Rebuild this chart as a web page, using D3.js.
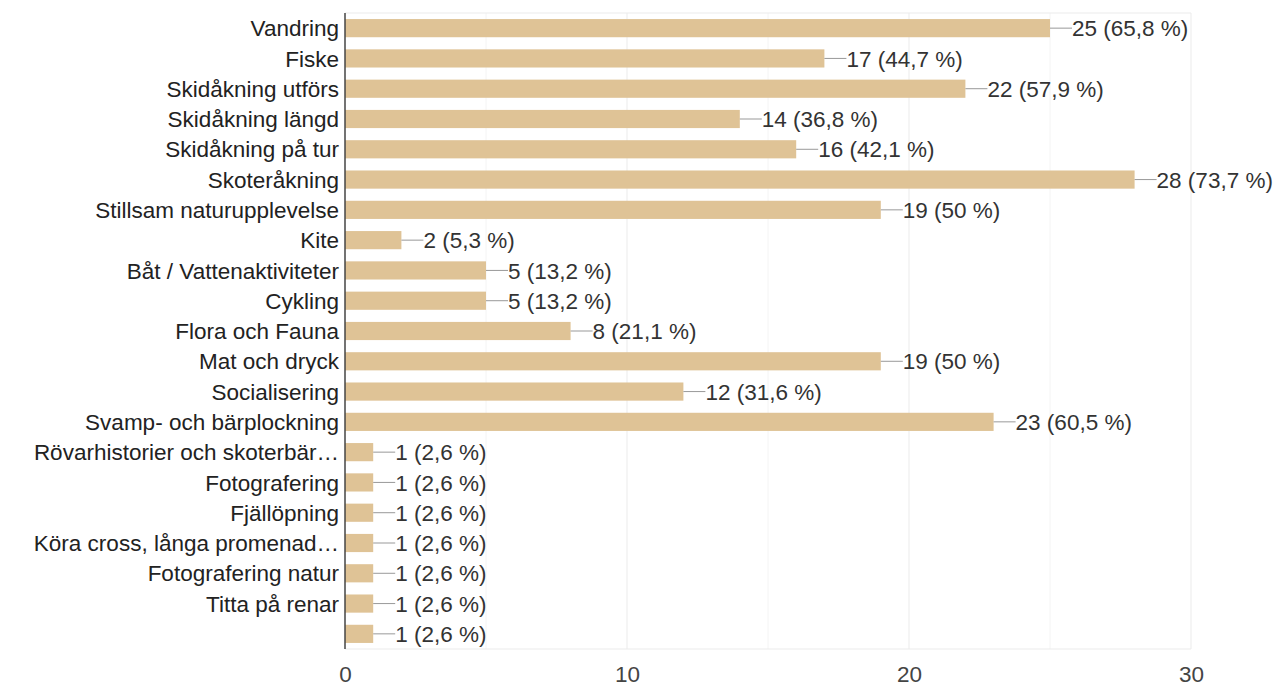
<!DOCTYPE html>
<html><head><meta charset="utf-8">
<script src="https://cdn.jsdelivr.net/npm/d3@7"></script>
<style>body{margin:0;background:#fff}svg{display:block;font-family:Arial,"Liberation Sans",sans-serif}</style>
</head><body>
<svg id="c" width="1281" height="686"></svg>
<script>
const categories = ["Vandring","Fiske","Skidåkning utförs","Skidåkning längd","Skidåkning på tur","Skoteråkning","Stillsam naturupplevelse","Kite","Båt / Vattenaktiviteter","Cykling","Flora och Fauna","Mat och dryck","Socialisering","Svamp- och bärplockning","Rövarhistorier och skoterbär…","Fotografering","Fjällöpning","Köra cross, långa promenad…","Fotografering natur","Titta på renar",""];
const counts = [25,17,22,14,16,28,19,2,5,5,8,19,12,23,1,1,1,1,1,1,1];
const percents = ["65,8","44,7","57,9","36,8","42,1","73,7","50","5,3","13,2","13,2","21,1","50","31,6","60,5","2,6","2,6","2,6","2,6","2,6","2,6","2,6"];
const majorTicks = [0,10,20,30];
const minorTicks = [5,15,25];

(function(){
const svg = d3.select("#c");
const pL = 345, pR = 1191, pT = 13, pB = 649;
const fs = 22.5;
const x = d3.scaleLinear().domain([0,30]).range([pL,pR]);
const y = d3.scaleBand().domain(d3.range(categories.length)).range([pT,pB]).paddingInner(0.4).paddingOuter(0.2);

svg.append("g").selectAll("line").data(minorTicks).join("line")
  .attr("x1",d=>x(d)).attr("x2",d=>x(d)).attr("y1",pT).attr("y2",pB)
  .attr("stroke","#f4f4f4").attr("stroke-width",1);
svg.append("g").selectAll("line").data(majorTicks.slice(1)).join("line")
  .attr("x1",d=>x(d)).attr("x2",d=>x(d)).attr("y1",pT).attr("y2",pB)
  .attr("stroke","#ebebeb").attr("stroke-width",1);
svg.append("line").attr("x1",pL).attr("x2",pR).attr("y1",pT).attr("y2",pT).attr("stroke","#ebebeb");
svg.append("line").attr("x1",pL).attr("x2",pR).attr("y1",pB).attr("y2",pB).attr("stroke","#ebebeb");

svg.append("g").selectAll("rect").data(counts).join("rect")
  .attr("x",x(0)).attr("y",(d,i)=>y(i)).attr("width",d=>x(d)-x(0)).attr("height",y.bandwidth())
  .attr("fill","#dfc396");

svg.append("g").selectAll("line").data(counts).join("line")
  .attr("x1",d=>x(d)).attr("x2",d=>x(d)+22)
  .attr("y1",(d,i)=>y(i)+y.bandwidth()/2).attr("y2",(d,i)=>y(i)+y.bandwidth()/2)
  .attr("stroke","#999").attr("stroke-width",1);

svg.append("g").selectAll("text").data(counts).join("text")
  .attr("x",d=>x(d)+22).attr("y",(d,i)=>y(i)+y.bandwidth()/2).attr("dy","0.36em")
  .attr("font-size",fs).attr("fill","#333")
  .text((d,i)=>`${d} (${percents[i]} %)`);

svg.append("g").selectAll("text").data(categories).join("text")
  .attr("x",pL-6).attr("y",(d,i)=>y(i)+y.bandwidth()/2).attr("dy","0.36em")
  .attr("text-anchor","end").attr("font-size",fs).attr("fill","#222")
  .text(d=>d);

svg.append("line").attr("x1",pL).attr("x2",pL).attr("y1",pT).attr("y2",pB).attr("stroke","#444").attr("stroke-width",1.5);

const xAxis = d3.axisBottom(x).tickValues(majorTicks).tickSize(0).tickPadding(17).tickFormat(d3.format("d"));
const gx = svg.append("g").attr("transform",`translate(0,${pB})`).call(xAxis);
gx.select(".domain").remove();
gx.selectAll("text").attr("font-size",fs).attr("fill","#444").attr("font-family","Arial,'Liberation Sans',sans-serif");
})();
</script>
</body></html>
